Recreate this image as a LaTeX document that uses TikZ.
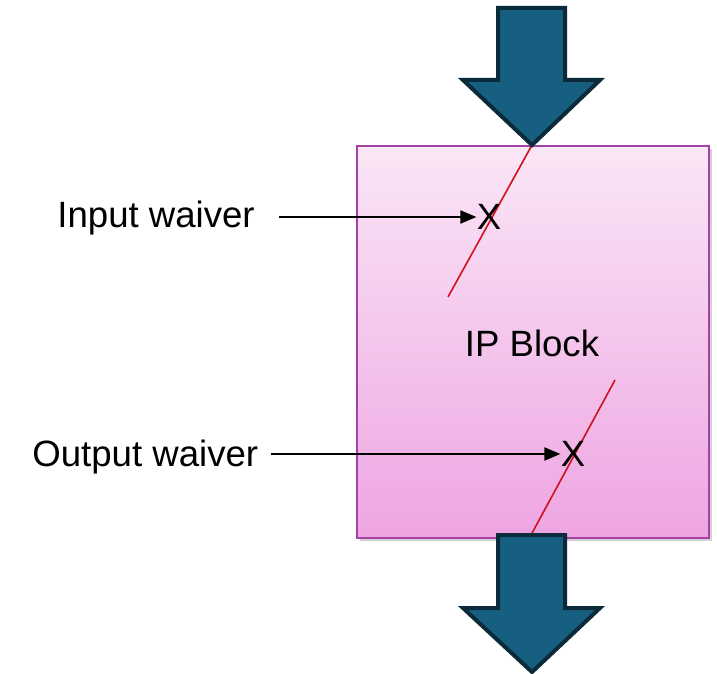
\documentclass[tikz,border=0pt]{standalone}
\usepackage{fontspec}
\setmainfont{Liberation Sans}
\usetikzlibrary{arrows.meta}
\definecolor{arrfill}{HTML}{175F80}
\definecolor{arrline}{HTML}{0B2A3A}
\definecolor{boxline}{HTML}{A542A5}
\definecolor{boxtop}{HTML}{FAE6F6}
\definecolor{boxbot}{HTML}{EEA5E2}
\definecolor{waive}{HTML}{D0101A}
\tikzset{
  bigarrow/.style={fill=arrfill,draw=arrline,line width=2pt,line join=miter},
  lbl/.style={font=\fontsize{18.3}{22}\selectfont,inner sep=0pt,anchor=west},
  xmark/.style={font=\fontsize{18.3}{22}\selectfont,inner sep=0pt},
  conn/.style={draw=black,line width=1pt,-{Triangle[length=8pt,width=6.5pt]}},
  waiverline/.style={draw=waive,line width=0.8pt},
}
\begin{document}
\begin{tikzpicture}[x=0.5pt,y=-0.5pt]
\useasboundingbox (0,0) rectangle (717,674);
% shadow
\fill[black,opacity=0.18] (360,149) rectangle (712,541);
% box
\node[draw=boxline,line width=1pt,top color=boxtop,bottom color=boxbot,
      minimum width=176pt,minimum height=196pt,inner sep=0pt,anchor=north west]
      (ip) at (356,145) {};
\node[xmark] (iplab) at (532,343) {IP Block};
% waiver lines
\draw[waiverline] (532,145) -- (448,297);
\draw[waiverline] (615,380) -- (531,535);
% top arrow
\draw[bigarrow] (498,8) -- (565,8) -- (565,80) -- (600,80) -- (532,145)
  -- (463,80) -- (498,80) -- cycle;
% bottom arrow
\draw[bigarrow] (498,535) -- (565,535) -- (565,608) -- (600,608) -- (532,672)
  -- (463,608) -- (498,608) -- cycle;
% labels
\node[lbl] (inlab) at (57,218) {Input waiver};
\node[lbl] (outlab) at (32,457) {Output waiver};
\node[xmark] (inx) at (489,217) {X};
\node[xmark] (outx) at (573,454) {X};
\draw[conn] ([xshift=12pt]inlab.east |- inx.west) -- (inx.west);
\draw[conn] ([xshift=6pt]outlab.east |- outx.west) -- (outx.west);
\end{tikzpicture}
\end{document}
